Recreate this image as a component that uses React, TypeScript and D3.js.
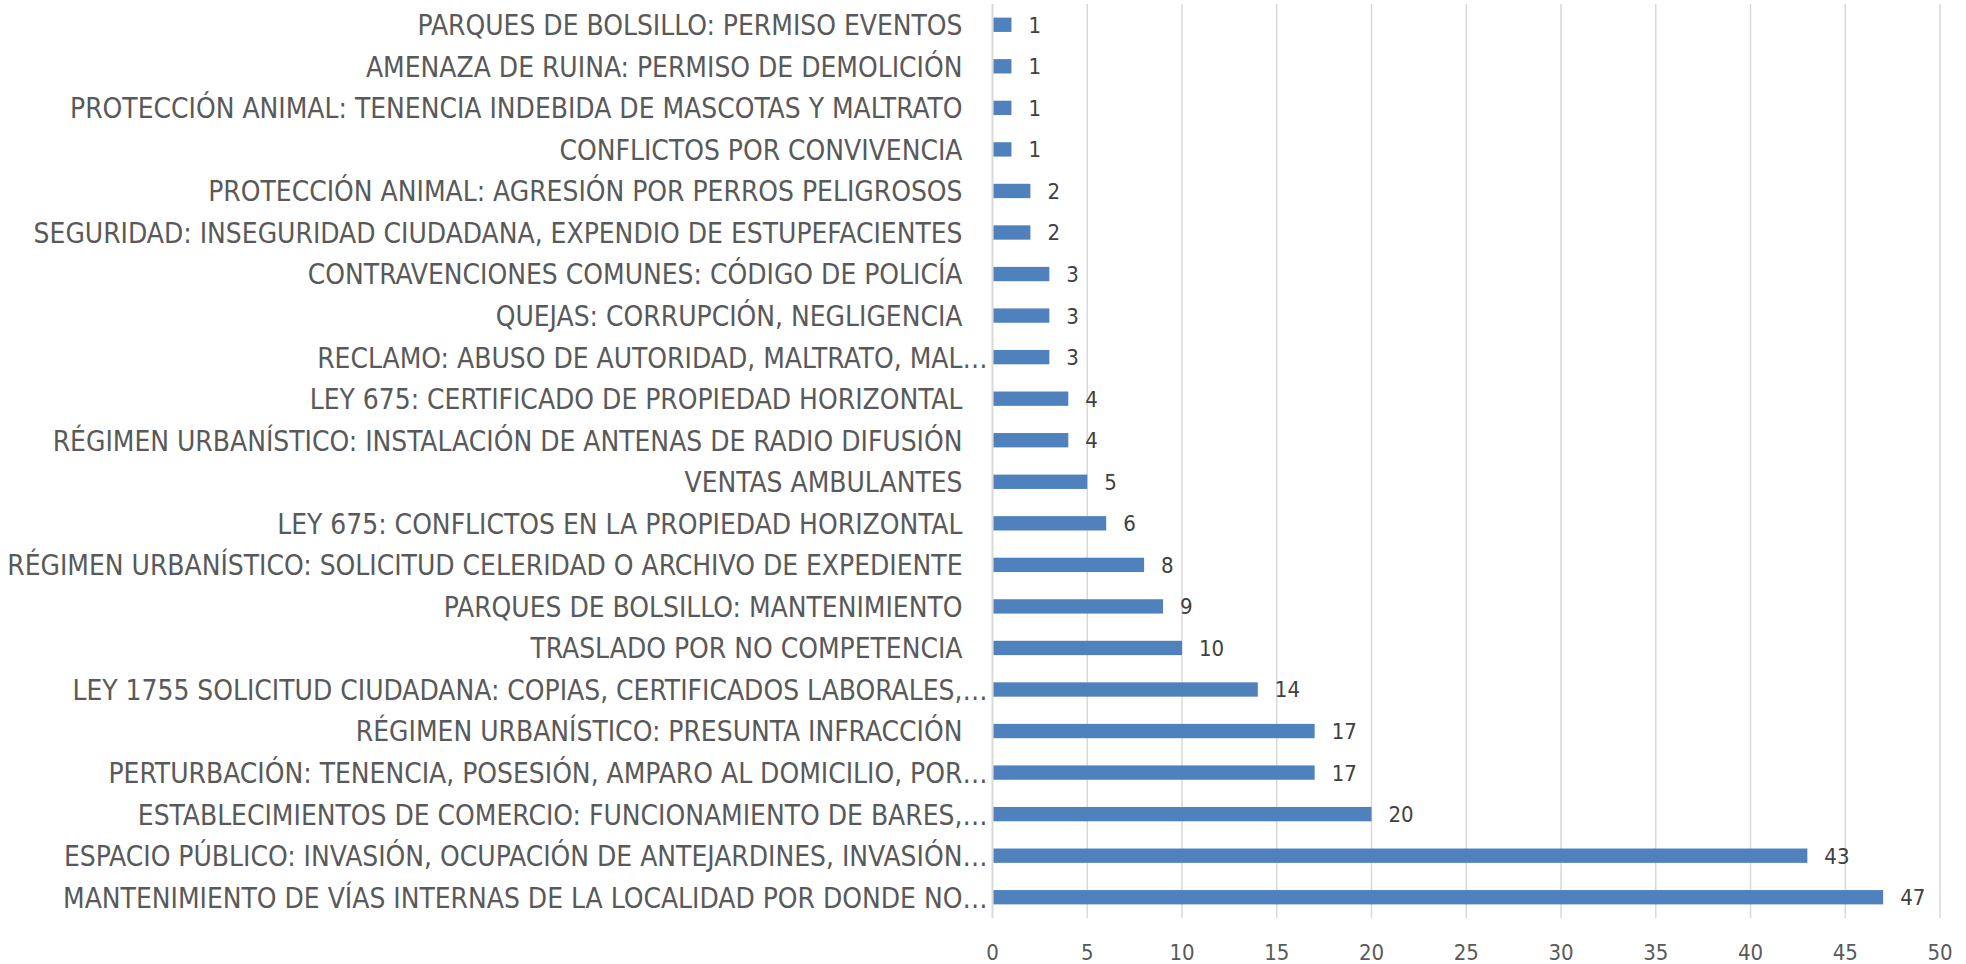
import React from "react";
import * as d3 from "d3";

const categories: string[] = [
  "PARQUES DE BOLSILLO: PERMISO EVENTOS",
  "AMENAZA DE RUINA: PERMISO DE DEMOLICIÓN",
  "PROTECCIÓN ANIMAL: TENENCIA INDEBIDA DE MASCOTAS Y MALTRATO",
  "CONFLICTOS POR CONVIVENCIA",
  "PROTECCIÓN ANIMAL: AGRESIÓN POR PERROS PELIGROSOS",
  "SEGURIDAD: INSEGURIDAD CIUDADANA, EXPENDIO DE ESTUPEFACIENTES",
  "CONTRAVENCIONES COMUNES: CÓDIGO DE POLICÍA",
  "QUEJAS: CORRUPCIÓN, NEGLIGENCIA",
  "RECLAMO: ABUSO DE AUTORIDAD, MALTRATO, MAL…",
  "LEY 675: CERTIFICADO DE PROPIEDAD HORIZONTAL",
  "RÉGIMEN URBANÍSTICO: INSTALACIÓN DE ANTENAS DE RADIO DIFUSIÓN",
  "VENTAS AMBULANTES",
  "LEY 675: CONFLICTOS EN LA PROPIEDAD HORIZONTAL",
  "RÉGIMEN URBANÍSTICO: SOLICITUD CELERIDAD O ARCHIVO DE EXPEDIENTE",
  "PARQUES DE BOLSILLO: MANTENIMIENTO",
  "TRASLADO POR NO COMPETENCIA",
  "LEY 1755 SOLICITUD CIUDADANA: COPIAS, CERTIFICADOS LABORALES,…",
  "RÉGIMEN URBANÍSTICO: PRESUNTA INFRACCIÓN",
  "PERTURBACIÓN: TENENCIA, POSESIÓN, AMPARO AL DOMICILIO, POR…",
  "ESTABLECIMIENTOS DE COMERCIO: FUNCIONAMIENTO DE BARES,…",
  "ESPACIO PÚBLICO: INVASIÓN, OCUPACIÓN DE ANTEJARDINES, INVASIÓN…",
  "MANTENIMIENTO DE VÍAS INTERNAS DE LA LOCALIDAD POR DONDE NO…",
];

const values: number[] = [1, 1, 1, 1, 2, 2, 3, 3, 3, 4, 4, 5, 6, 8, 9, 10, 14, 17, 17, 20, 43, 47];

const xTicks: number[] = [0, 5, 10, 15, 20, 25, 30, 35, 40, 45, 50];

const W = 1966;
const H = 964;
const FONT = "'DejaVu Sans Condensed', 'Liberation Sans Narrow', sans-serif";

export default function App() {
  const x = d3.scaleLinear().domain([0, 50]).range([992.5, 1940]);
  const y = d3
    .scaleBand<string>()
    .domain(categories)
    .range([4, 918])
    .paddingInner(0.655)
    .paddingOuter(0.3275);

  const labelFs = 29;
  const valueFs = 22;
  const tickFs = 22;
  const squeeze = 0.962;

  return (
    <svg
      width={W}
      height={H}
      style={{ position: "absolute", left: 0, top: 0, background: "#fff" }}
      fontFamily={FONT}
    >
      <rect x={0} y={0} width={W} height={H} fill="#fff" />
      {xTicks.map((t) => (
        <line
          key={"g" + t}
          x1={x(t)}
          x2={x(t)}
          y1={4}
          y2={918}
          stroke="#d9d9d9"
          strokeWidth={t === 0 ? 2 : 1.5}
        />
      ))}
      {categories.map((c, i) => {
        const yc = (y(c) as number) + y.bandwidth() / 2;
        const truncated = c.endsWith("…");
        const lx = x(0) - (truncated ? 5 : 30);
        return (
          <g key={c}>
            <rect
              x={x(0) + 1}
              y={y(c)}
              width={x(values[i]) - x(0) - 1}
              height={y.bandwidth()}
              fill="#4f81bd"
            />
            <text
              x={x(values[i]) + 17}
              y={yc + valueFs * 0.36}
              fontSize={valueFs}
              fill="#404040"
            >
              {values[i]}
            </text>
            <text
              transform={`translate(${lx},${yc + labelFs * 0.36}) scale(${squeeze},1)`}
              fontSize={labelFs}
              fill="#595959"
              textAnchor="end"
            >
              {c}
            </text>
          </g>
        );
      })}
      {xTicks.map((t) => (
        <text
          key={"t" + t}
          x={x(t)}
          y={960}
          fontSize={tickFs}
          fill="#595959"
          textAnchor="middle"
        >
          {t}
        </text>
      ))}
    </svg>
  );
}
